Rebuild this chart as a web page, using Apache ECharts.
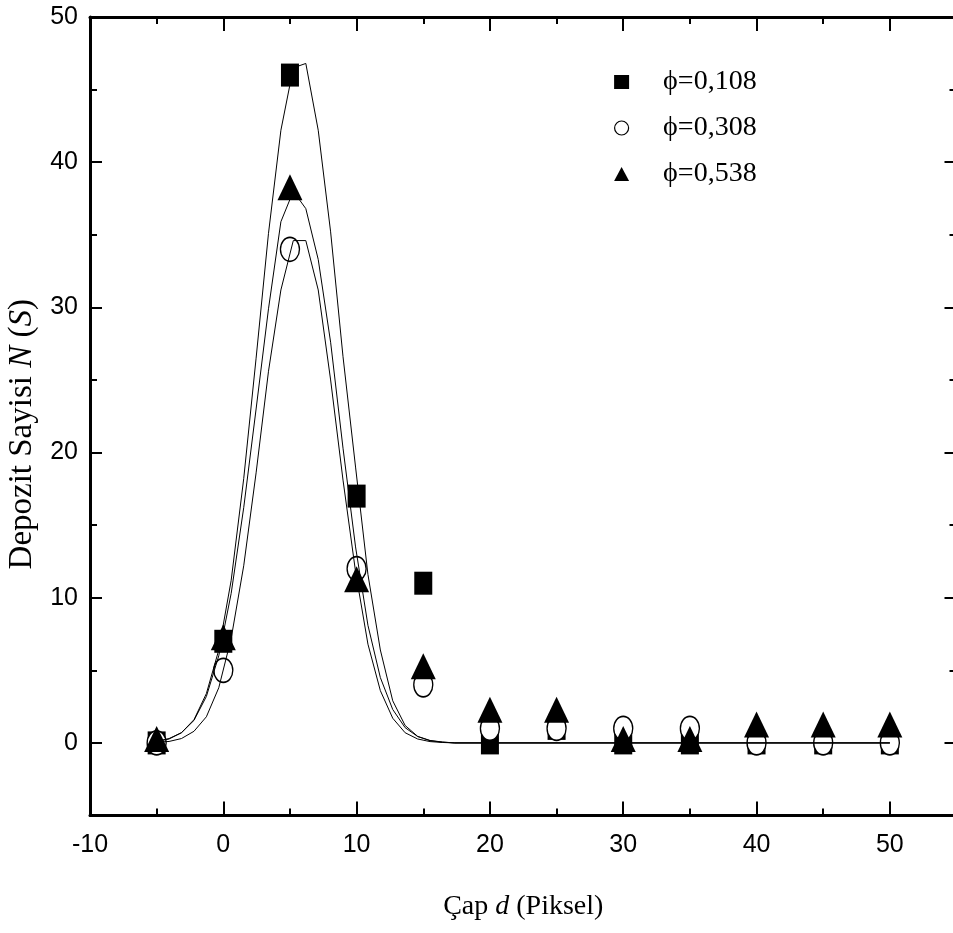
<!DOCTYPE html>
<html>
<head>
<meta charset="utf-8">
<script src="https://cdn.jsdelivr.net/npm/echarts@6/dist/echarts.min.js"></script>
<style>
  html, body { margin: 0; padding: 0; background: #fff; }
  #chart { width: 953px; height: 933px; }
</style>
</head>
<body>
<div id="chart"></div>
<script>
// Measured deposit counts per diameter class
const diameters = [-5, 0, 5, 10, 15, 20, 25, 30, 35, 40, 45, 50];
const countsPhi108 = [0, 7, 46, 17, 11, 0, 1, 0, 0, 0, 0, 0];
const countsPhi308 = [0, 5, 34, 12, 4, 1, 1, 1, 1, 0, 0, 0];
const countsPhi538 = [0, 7, 38, 11, 5, 2, 2, 0, 0, 1, 1, 1];

// Fitted distribution curves, sampled along the diameter axis
const fitX = [-5, -4.07, -3.14, -2.2, -1.27, -0.34, 0.59, 1.53, 2.46, 3.39, 4.32, 5.25, 6.19,
              7.12, 8.05, 8.98, 9.92, 10.85, 11.78, 12.71, 13.64, 14.58, 15.51, 16.44, 17.37, 50];
const fitPhi108 = [0.1, 0.3, 0.7, 1.6, 3.4, 6.4, 11.2, 18.2, 26.5, 35.1, 42.2, 46.5, 46.8,
                   42.2, 35.2, 26.6, 19.0, 11.6, 6.4, 2.9, 1.2, 0.45, 0.15, 0.05, 0, 0];
const fitPhi308 = [0.05, 0.1, 0.3, 0.8, 1.8, 3.8, 7.2, 12.2, 18.6, 25.6, 31.2, 34.6, 34.6,
                   31.2, 25.0, 18.1, 11.8, 6.8, 3.6, 1.7, 0.7, 0.27, 0.09, 0.03, 0, 0];
const fitPhi538 = [0.1, 0.27, 0.7, 1.55, 3.2, 6.0, 10.3, 16.2, 23.0, 29.9, 35.9, 38.0, 36.8,
                   33.3, 27.6, 20.3, 13.5, 8.1, 4.5, 2.3, 1.05, 0.44, 0.17, 0.06, 0, 0];

// Axis ticks
const xMajorTicks = [-10, 0, 10, 20, 30, 40, 50];
const xMinorTicks = [-5, 5, 15, 25, 35, 45];
const yMajorTicks = [0, 10, 20, 30, 40, 50];
const yMinorTicks = [-5, 5, 15, 25, 35, 45];

const seriesNames = ['ϕ=0,108', 'ϕ=0,308', 'ϕ=0,538'];

const SANS = '"Liberation Sans", Arial, sans-serif';
const SERIF = '"Liberation Serif", "Times New Roman", serif';
const INK = '#000';

const pairs = (xs, ys) => xs.map((x, i) => [x, ys[i]]);

function makeXAxis(position, ticks, tickLen, withLine, withLabels) {
  return {
    type: 'value', position, min: -10, max: 55, gridIndex: 0,
    splitLine: { show: false },
    axisLine: { show: withLine, onZero: false, lineStyle: { color: INK, width: 3 } },
    axisTick: { show: true, inside: true, length: tickLen, customValues: ticks,
                lineStyle: { color: INK, width: 2 } },
    axisLabel: withLabels
      ? { show: true, customValues: ticks, margin: 17, color: INK, fontFamily: SANS, fontSize: 25 }
      : { show: false }
  };
}

function makeYAxis(position, ticks, tickLen, withLine, withLabels) {
  return {
    type: 'value', position, min: -5, max: 50, gridIndex: 0,
    splitLine: { show: false },
    axisLine: { show: withLine, onZero: false, lineStyle: { color: INK, width: 3 } },
    axisTick: { show: true, inside: true, length: tickLen, customValues: ticks,
                lineStyle: { color: INK, width: 2 } },
    axisLabel: withLabels
      ? { show: true, customValues: ticks, margin: 12, color: INK, fontFamily: SANS, fontSize: 25 }
      : { show: false }
  };
}

const xAxes = [
  makeXAxis('bottom', xMajorTicks, 14, true, true),
  makeXAxis('bottom', xMinorTicks, 7, false, false),
  makeXAxis('top', xMajorTicks, 14, true, false),
  makeXAxis('top', xMinorTicks, 7, false, false)
];
Object.assign(xAxes[0], {
  name: 'Çap {it|d} (Piksel)',
  nameLocation: 'middle',
  nameGap: 77,
  nameTextStyle: {
    color: INK, fontFamily: SERIF, fontSize: 28,
    rich: { it: { fontStyle: 'italic', fontFamily: SERIF, fontSize: 28, color: INK } }
  }
});

const yAxes = [
  makeYAxis('left', yMajorTicks, 12, true, true),
  makeYAxis('left', yMinorTicks, 7, false, false),
  makeYAxis('right', yMajorTicks, 12, true, false),
  makeYAxis('right', yMinorTicks, 7, false, false)
];
Object.assign(yAxes[0], {
  name: 'Depozit Sayisi {it|N} ({it|S})',
  nameLocation: 'middle',
  nameGap: 50,
  nameRotate: 90,
  nameTextStyle: {
    color: INK, fontFamily: SERIF, fontSize: 33,
    padding: [0, 36, 0, 0],
    rich: { it: { fontStyle: 'italic', fontFamily: SERIF, fontSize: 33, color: INK } }
  }
});

const filled = { color: INK, borderColor: INK, borderWidth: 0, opacity: 1 };
const hollow = { color: '#fff', borderColor: INK, borderWidth: 1.5, opacity: 1 };

const chart = echarts.init(document.getElementById('chart'), null, { renderer: 'canvas' });
chart.setOption({
  animation: false,
  backgroundColor: '#fff',
  grid: {
    left: 90, top: 17, width: 866.5, height: 798.5,
    containLabel: false, outerBoundsMode: 'none'
  },
  xAxis: xAxes,
  yAxis: yAxes,
  legend: {
    orient: 'vertical',
    left: 609,
    top: 63,
    itemWidth: 15,
    itemHeight: 14,
    itemGap: 18,
    formatter: name => '{gap|}' + name,
    textStyle: {
      color: INK, fontFamily: SERIF, fontSize: 28,
      rich: { gap: { width: 29 } }
    },
    data: [
      { name: seriesNames[0], icon: 'rect', itemStyle: filled },
      { name: seriesNames[1], icon: 'circle', itemStyle: { color: '#fff', borderColor: INK, borderWidth: 1.2, opacity: 1 } },
      { name: seriesNames[2], icon: 'triangle', itemStyle: filled }
    ]
  },
  series: [
    {
      name: seriesNames[0], type: 'scatter', symbol: 'rect', symbolSize: [18, 23],
      itemStyle: filled, data: pairs(diameters, countsPhi108), z: 3
    },
    {
      name: seriesNames[1], type: 'scatter', symbol: 'circle', symbolSize: [19, 24],
      itemStyle: hollow, data: pairs(diameters, countsPhi308), z: 4
    },
    {
      name: seriesNames[2], type: 'scatter', symbol: 'triangle', symbolSize: [25, 26],
      symbolOffset: [0, -4],
      itemStyle: filled, data: pairs(diameters, countsPhi538), z: 5
    },
    {
      name: 'fit108', type: 'line', data: pairs(fitX, fitPhi108), showSymbol: false,
      lineStyle: { color: INK, width: 1 }, z: 6, silent: true
    },
    {
      name: 'fit308', type: 'line', data: pairs(fitX, fitPhi308), showSymbol: false,
      lineStyle: { color: INK, width: 1 }, z: 6, silent: true
    },
    {
      name: 'fit538', type: 'line', data: pairs(fitX, fitPhi538), showSymbol: false,
      lineStyle: { color: INK, width: 1 }, z: 6, silent: true
    }
  ]
});
</script>
</body>
</html>
